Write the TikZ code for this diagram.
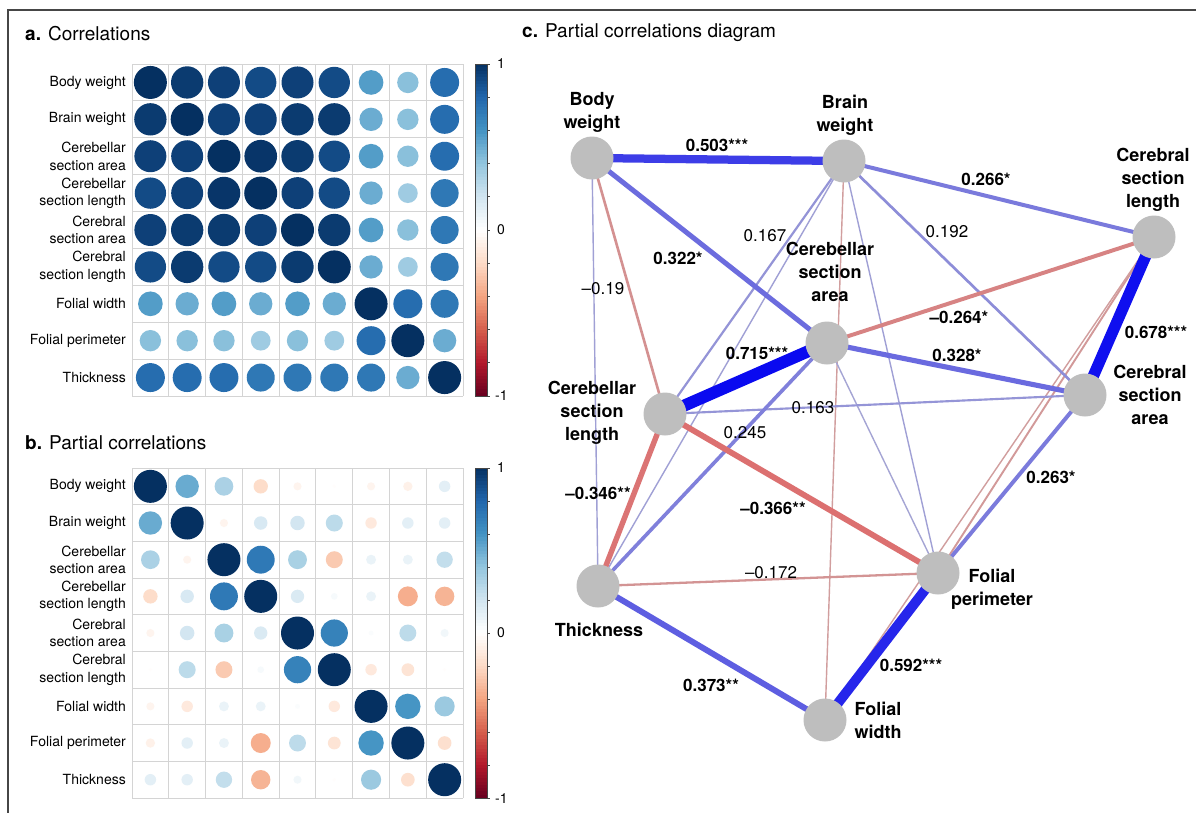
\documentclass[tikz,border=0pt]{standalone}
\usepackage{fontspec}
\setmainfont{TeX Gyre Heros}
\usepackage{tikz}
\usetikzlibrary{backgrounds}
\usepackage{xcolor}

% RdBu palette of the correlation plots
\definecolor{bl0}{HTML}{FFFFFF}
\definecolor{bl1}{HTML}{D1E5F0}
\definecolor{bl2}{HTML}{92C5DE}
\definecolor{bl3}{HTML}{4393C3}
\definecolor{bl4}{HTML}{2166AC}
\definecolor{bl5}{HTML}{053061}
\definecolor{rd0}{HTML}{FFFFFF}
\definecolor{rd1}{HTML}{FDDBC7}
\definecolor{rd2}{HTML}{F4A582}
\definecolor{rd3}{HTML}{D6604D}
\definecolor{rd4}{HTML}{B2182B}
\definecolor{rd5}{HTML}{67001F}
% graph colours
\definecolor{nodegray}{RGB}{190,190,190}
\definecolor{edgeblue}{RGB}{10,10,240}
\definecolor{edgelav}{RGB}{165,165,212}
\definecolor{edgered}{RGB}{235,50,50}
\definecolor{edgepink}{RGB}{208,162,162}
\definecolor{framegray}{RGB}{70,70,70}
\definecolor{gridgray}{RGB}{212,212,212}

\newcommand{\setcorrcolor}[1]{%
  \pgfmathsetmacro{\cabs}{min(abs(#1),0.9999)}%
  \pgfmathtruncatemacro{\cseg}{floor(\cabs*5)}%
  \pgfmathtruncatemacro{\cnext}{\cseg+1}%
  \pgfmathsetmacro{\cpct}{(\cabs*5-\cseg)*100}%
  \ifdim #1pt<0pt\def\cside{rd}\else\def\cside{bl}\fi
  \colorlet{corrcol}{\cside\cnext!\cpct!\cside\cseg}%
}

\tikzset{
  paneltitle/.style={anchor=west, inner sep=0pt, font=\fontsize{19}{22}\selectfont},
  rowlabel/.style={anchor=east, inner sep=0pt, align=right, font=\fontsize{14}{17.3}\selectfont},
  cblabel/.style={anchor=west, inner sep=0pt, font=\fontsize{14}{16}\selectfont},
  gridline/.style={gridgray, line width=1pt},
  cbframe/.style={framegray, line width=0.8pt},
  vertex/.style={circle, fill=nodegray, minimum size=43pt, inner sep=0pt},
  vlabel/.style={align=center, inner sep=0pt, font=\fontsize{18}{23}\selectfont\bfseries},
  elabel/.style={inner sep=0pt, font=\fontsize{17}{20}\selectfont},
  elabelsig/.style={inner sep=0pt, font=\fontsize{17}{20}\selectfont\bfseries},
}

\begin{document}
\begin{tikzpicture}[x=1pt,y=-1pt]
\useasboundingbox (0,0) rectangle (1196,812);
\begin{pgfonlayer}{background}
\fill[white] (0,0) rectangle (1196,812);
\end{pgfonlayer}
\draw[framegray, line width=1.2pt] (1200,10) -- (8,10) -- (8,815);

\node[paneltitle] (ta) at (25,34) {\textbf{a.} Correlations};
\node[paneltitle] (tb) at (25,443) {\textbf{b.} Partial correlations};
\node[paneltitle] (tc) at (522,33) {\textbf{c.} Partial correlations diagram};

\newcommand{\cellw}{36.78}
% a. correlations
\foreach \r/\vals in {
  1/{1,.96,.94,.9,.94,.9,.56,.42,.77},
  2/{.96,1,.94,.94,.96,.96,.5,.42,.77},
  3/{.94,.94,1,.98,.96,.9,.56,.42,.77},
  4/{.9,.94,.98,1,.94,.9,.5,.36,.72},
  5/{.94,.96,.96,.94,1,.96,.56,.42,.72},
  6/{.9,.96,.9,.9,.96,1,.5,.36,.72},
  7/{.56,.5,.56,.5,.56,.5,1,.77,.72},
  8/{.42,.42,.42,.36,.42,.36,.77,1,.5},
  9/{.77,.77,.77,.72,.72,.72,.72,.5,1}}
{
  \foreach \val [count=\c] in \vals {
    \setcorrcolor{\val}
    \pgfmathsetmacro{\crad}{16.5*sqrt(abs(\val))}
    \fill[corrcol] (132+\c*\cellw-\cellw/2, 64+\r*36.89-18.445) circle[radius=\crad pt];
  }
}
% b. partial correlations
\foreach \r/\vals in {
  1/{1,.503,.322,-.19,-.06,-.01,-.06,-.08,.12},
  2/{.503,1,-.06,.167,.192,.266,-.12,.12,.12},
  3/{.322,-.06,1,.715,.328,-.264,.09,.09,.245},
  4/{-.19,.167,.715,1,.163,.04,.09,-.366,-.346},
  5/{-.06,.192,.328,.163,1,.678,.02,.263,.06},
  6/{-.01,.266,-.264,.04,.678,1,-.12,-.15,-.01},
  7/{-.06,-.12,.09,.09,.02,-.12,1,.592,.373},
  8/{-.08,.12,.09,-.366,.263,-.15,.592,1,-.172},
  9/{.12,.12,.245,-.346,.06,-.01,.373,-.172,1}}
{
  \foreach \val [count=\c] in \vals {
    \setcorrcolor{\val}
    \pgfmathsetmacro{\crad}{16.5*sqrt(abs(\val))}
    \fill[corrcol] (132+\c*\cellw-\cellw/2, 468+\r*36.67-18.335) circle[radius=\crad pt];
  }
}
% grids, row labels and colour bars of a and b
\foreach \top/\ch/\p in {64/36.89/a, 468/36.67/b}
{
  \foreach \k in {0,...,9} {
    \draw[gridline] (132+\k*\cellw,\top) -- (132+\k*\cellw,\top+9*\ch);
    \draw[gridline] (132,\top+\k*\ch) -- (463,\top+\k*\ch);
  }
  \foreach \r/\lab in {1/Body weight, 2/Brain weight, 3/{Cerebellar\\section area},
    4/{Cerebellar\\section length}, 5/{Cerebral\\section area}, 6/{Cerebral\\section length},
    7/Folial width, 8/Folial perimeter, 9/Thickness}
    \node[rowlabel] (l\p\r) at (126,\top+\r*\ch-\ch/2) {\lab};
  \foreach \k in {0,...,99} {
    \pgfmathsetmacro{\cv}{-1+(\k+0.5)/50}
    \setcorrcolor{\cv}
    \fill[corrcol] (475,\top+9*\ch-\k*\ch*0.09) rectangle (487,\top+9*\ch-\k*\ch*0.09-\ch*0.09-0.5);
  }
  \draw[cbframe] (475,\top) rectangle (487,\top+9*\ch);
  \foreach \k in {0,...,10}
    \draw[cbframe] (487,\top+\k*\ch*0.9) -- (490,\top+\k*\ch*0.9);
  \node[cblabel] (cb\p1) at (497,\top) {1};
  \node[cblabel] (cb\p0) at (497,\top+4.5*\ch) {0};
  \node[cblabel] (cb\p2) at (495,\top+9*\ch) {-1};
}

% c. diagram
\node[vertex] (bw) at (592,158) {};
\node[vertex] (brw) at (844,161) {};
\node[vertex] (crl) at (1154,237) {};
\node[vertex] (cba) at (827,343) {};
\node[vertex] (cra) at (1085,395) {};
\node[vertex] (cbl) at (665,414) {};
\node[vertex] (th) at (598,586) {};
\node[vertex] (fp) at (938,573) {};
\node[vertex] (fw) at (825,720) {};

\node[vlabel] (lbw) at (592,112) {Body\\weight};
\node[vlabel] (lbrw) at (845,115) {Brain\\weight};
\node[vlabel] (lcrl) at (1153,180) {Cerebral\\section\\length};
\node[vlabel] (lcba) at (830,272) {Cerebellar\\section\\area};
\node[vlabel] (lcra) at (1150,395) {Cerebral\\section\\area};
\node[vlabel] (lcbl) at (592,413) {Cerebellar\\section\\length};
\node[vlabel] (lth) at (599,630) {Thickness};
\node[vlabel] (lfp) at (992,589) {Folial\\perimeter};
\node[vlabel] (lfw) at (878,720) {Folial\\width};

\begin{pgfonlayer}{background}
\foreach \na/\nb/\wt in {bw/th/.12, brw/th/.12, brw/fp/.12, brw/fw/-.12, cba/fp/.09,
  crl/fp/-.15, crl/fw/-.12, cbl/cra/.163, brw/cbl/.167, th/fp/-.172, bw/cbl/-.19,
  brw/cra/.192, cba/th/.245, cra/fp/.263, cba/crl/-.264, brw/crl/.266, bw/cba/.322,
  cba/cra/.328, cbl/th/-.346, cbl/fp/-.366, th/fw/.373, bw/brw/.503, fp/fw/.592,
  crl/cra/.678, cba/cbl/.715}
{
  \pgfmathsetmacro{\ew}{max(1.4,18*abs(\wt)-0.8)}
  \pgfmathsetmacro{\et}{min(100,max(0,(abs(\wt)-0.1)*167))}
  \ifdim \wt pt<0pt \colorlet{ecol}{edgered!\et!edgepink}\else\colorlet{ecol}{edgeblue!\et!edgelav}\fi
  \draw[line width=\ew pt, ecol] (\na.center) -- (\nb.center);
}
\end{pgfonlayer}

\foreach \px/\py/\sig/\txt [count=\i] in {
  717/145/1/0.503***, 678/258/1/0.322*, 603/289/0/\textendash0.19, 765/236/0/0.167,
  757/353/1/0.715***, 813/408/0/0.163, 745/433/0/0.245, 986/179/1/0.266*,
  947/232/0/0.192, 959/317/1/\textendash0.264*, 1156/332/1/0.678***, 957/355/1/0.328*,
  1051/477/1/0.263*, 911/665/1/0.592***, 598/493/1/\textendash0.346**,
  773/508/1/\textendash0.366**, 771/573/0/\textendash0.172, 711/685/1/0.373**}
{
  \if\sig1
  \node[elabelsig] (el\i) at (\px,\py) {\txt};
  \else
  \node[elabel] (el\i) at (\px,\py) {\txt};
  \fi
}
\end{tikzpicture}
\end{document}
